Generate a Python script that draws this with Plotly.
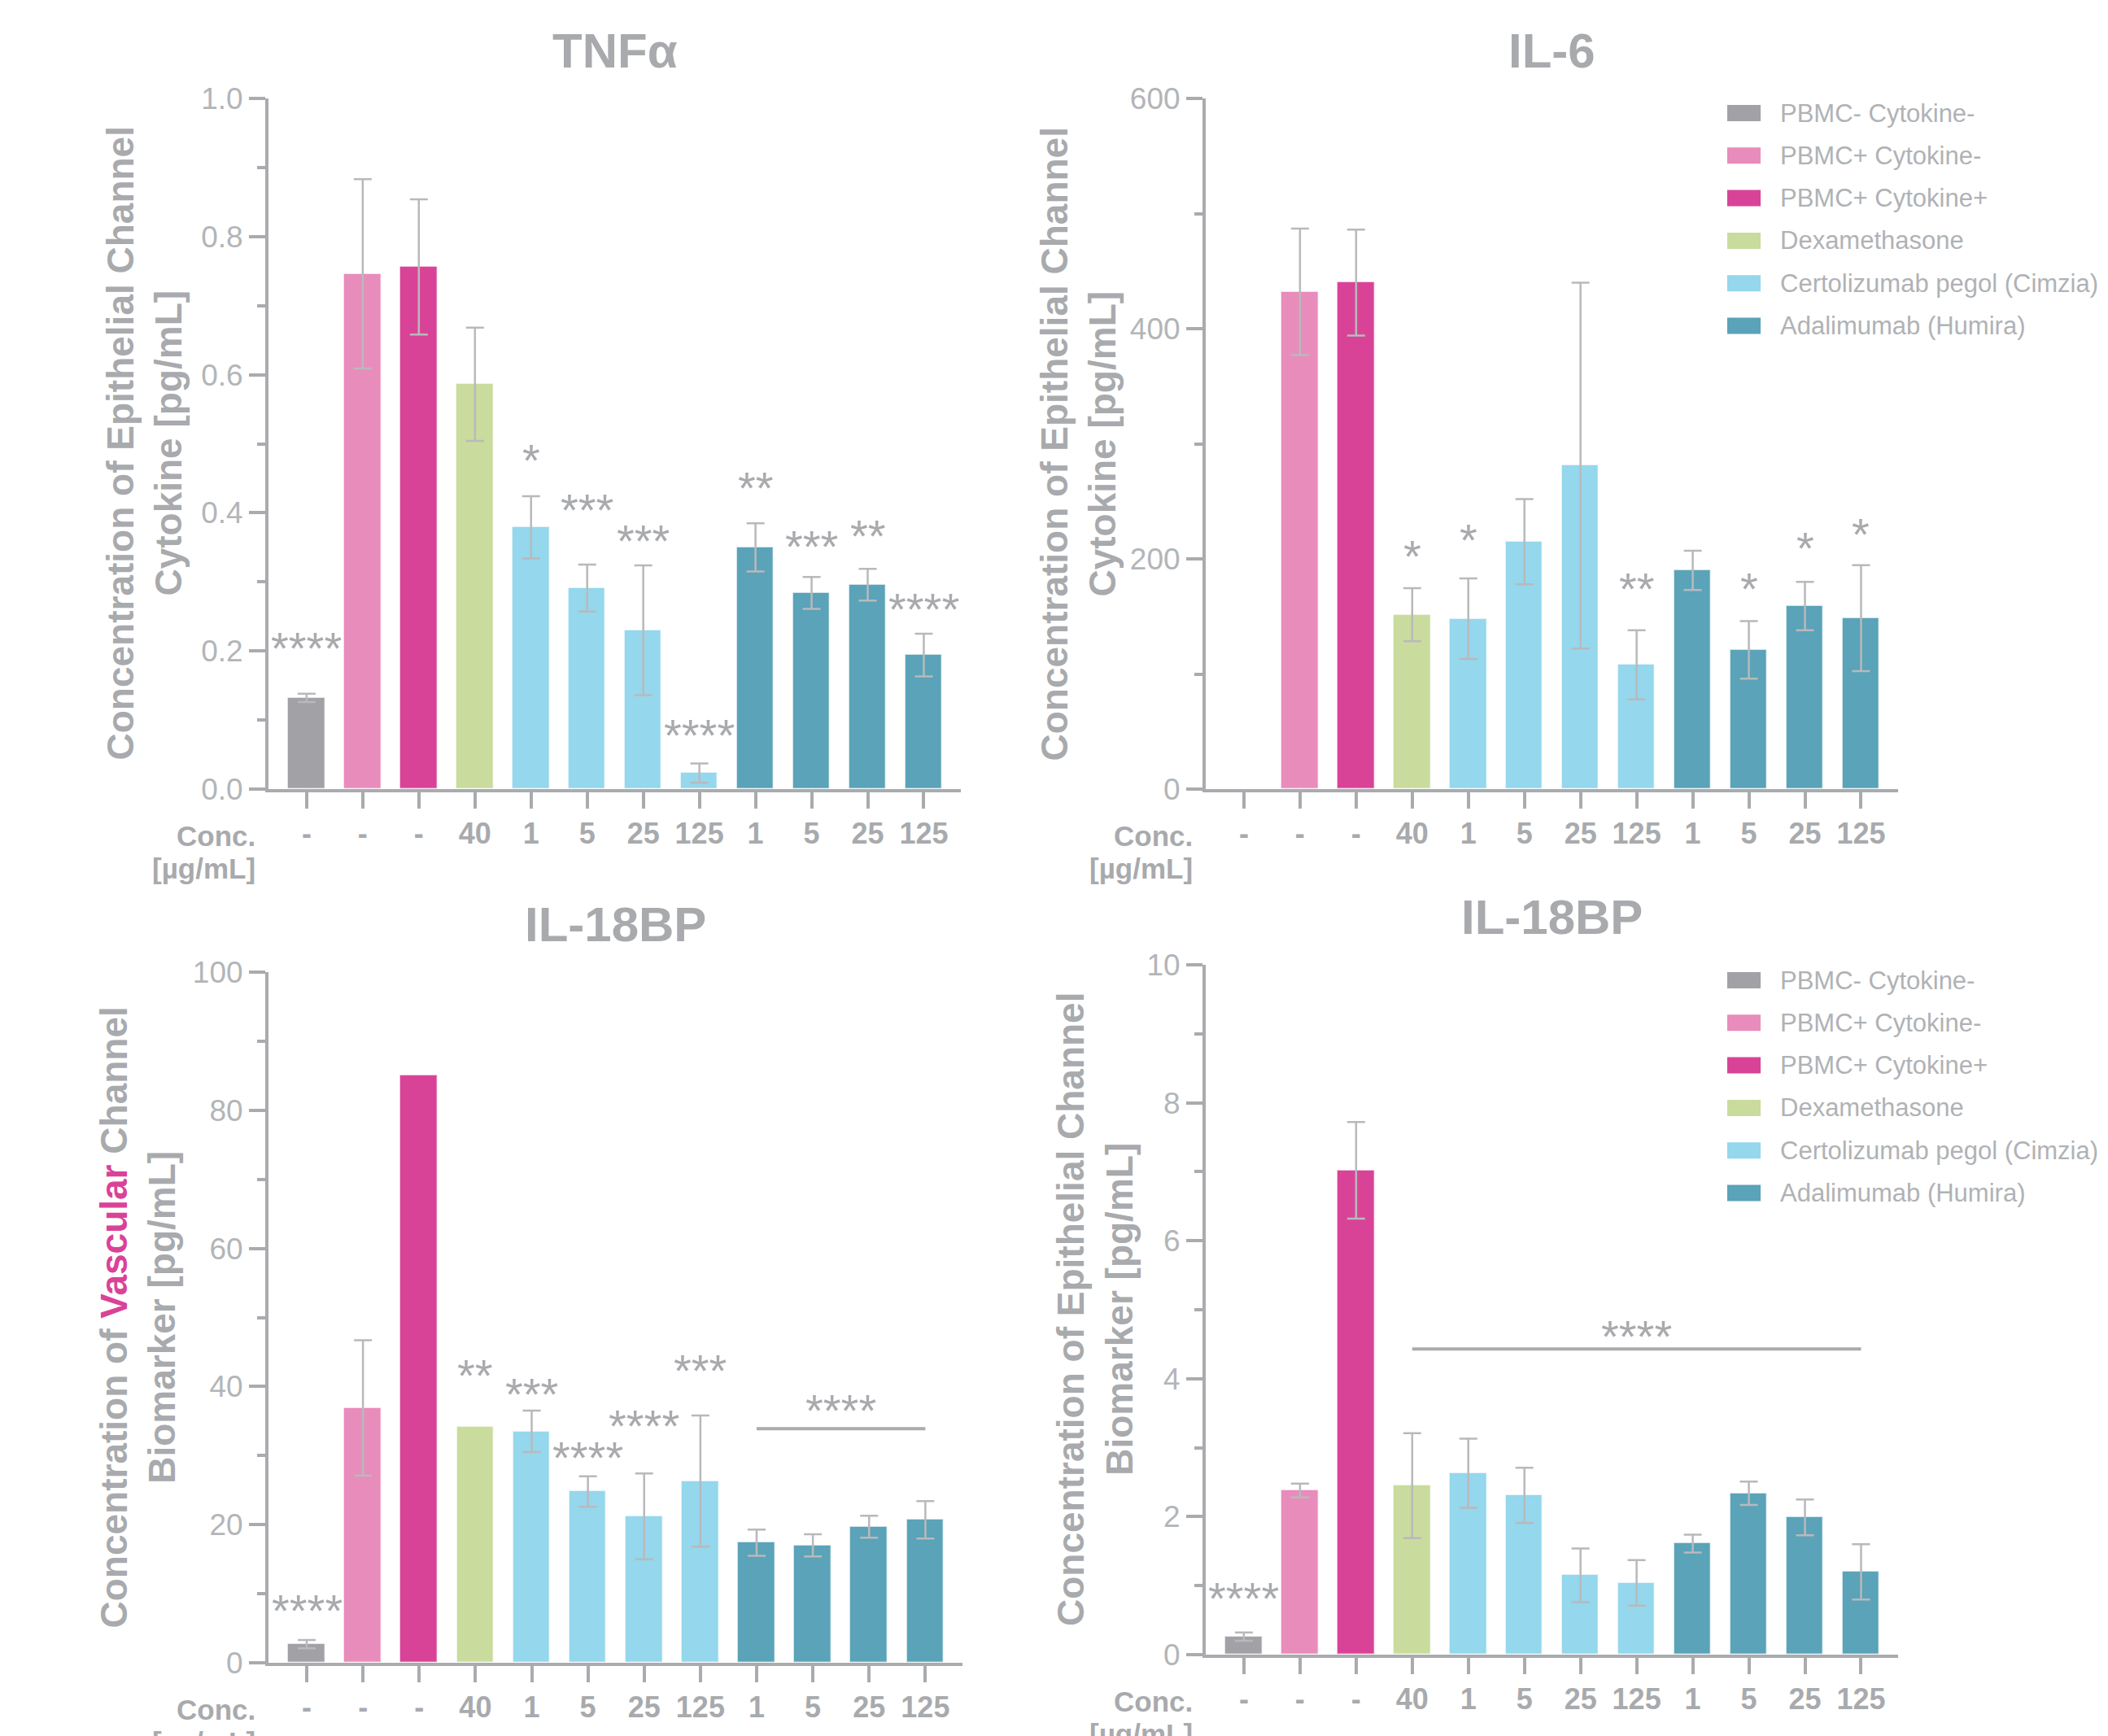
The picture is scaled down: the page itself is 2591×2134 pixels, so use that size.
import plotly.graph_objects as go

# ---------------- data ----------------
conc_labels = ["-", "-", "-", "40", "1", "5", "25", "125", "1", "5", "25", "125"]
groups = ["PBMC- Cytokine-", "PBMC+ Cytokine-", "PBMC+ Cytokine+", "Dexamethasone",
          "Certolizumab pegol (Cimzia)", "Adalimumab (Humira)"]
group_of_bar = [0, 1, 2, 3, 4, 4, 4, 4, 5, 5, 5, 5]

tnf_mean = [0.132, 0.746, 0.756, 0.586, 0.379, 0.291, 0.230, 0.023, 0.350, 0.284, 0.296, 0.194]
tnf_err = [0.006, 0.137, 0.098, 0.082, 0.045, 0.034, 0.094, 0.014, 0.035, 0.023, 0.023, 0.031]
tnf_sig = ["****", "", "", "", "*", "***", "***", "****", "**", "***", "**", "****"]
tnf_sig_y = [0.219, None, None, None, 0.49, 0.419, 0.374, 0.092, 0.45, 0.366, 0.381, 0.275]

il6_mean = [0, 432, 440, 151.5, 148, 215, 281, 108, 190, 121, 159, 148.5]
il6_err = [None, 55, 46, 23, 35, 37, 159, 30, 17, 25, 21, 46]
il6_sig = ["", "", "", "*", "*", "", "", "**", "", "*", "*", "*"]
il6_sig_y = [None, None, None, 211, 225, None, None, 183, None, 183, 218, 230]

vas_mean = [2.7, 36.9, 85.1, 34.2, 33.5, 24.8, 21.2, 26.3, 17.4, 17.0, 19.7, 20.7]
vas_err = [0.6, 9.8, None, None, 3.0, 2.2, 6.2, 9.5, 1.9, 1.6, 1.6, 2.7]
vas_sig = ["****", "", "", "**", "***", "****", "****", "***", "", "", "", ""]
vas_sig_y = [9.0, None, None, 43.0, 40.3, 31.2, 35.8, 43.7, None, None, None, None]
vas_bracket = (8, 11, 33.9, "****", 38.0)

epi_mean = [0.26, 2.38, 7.02, 2.45, 2.63, 2.31, 1.15, 1.04, 1.61, 2.34, 1.99, 1.20]
epi_err = [0.06, 0.10, 0.70, 0.76, 0.50, 0.40, 0.39, 0.33, 0.13, 0.17, 0.26, 0.40]
epi_sig = ["****", "", "", "", "", "", "", "", "", "", "", ""]
epi_sig_y = [0.96, None, None, None, None, None, None, None, None, None, None, None]
epi_bracket = (3, 11, 4.43, "****", 4.76)

# ---------------- style ----------------
W, H = 2591, 2134
colors = ["#a1a1a6", "#e88cbb", "#d94397", "#c9dc9d", "#95d7ec", "#5aa3b8"]
GRAY = "#a8aaad"
AXC = "#a9abae"
ERR = "#b9b9bb"
FONT = "Liberation Sans, Arial, sans-serif"

panels = [
    dict(title="TNFα", mean=tnf_mean, err=tnf_err, sig=tnf_sig, sig_y=tnf_sig_y, bracket=None,
         rng=[0, 1.0], dtick=0.2, minor=0.1, fmt=".1f",
         px=(330, 1181), py=(121, 970),
         ytitle="Concentration of Epithelial Channel<br>Cytokine [pg/mL]", ytx=178, legend_top=None),
    dict(title="IL-6", mean=il6_mean, err=il6_err, sig=il6_sig, sig_y=il6_sig_y, bracket=None,
         rng=[0, 600], dtick=200, minor=100, fmt="d",
         px=(1482, 2333), py=(121, 970),
         ytitle="Concentration of Epithelial Channel<br>Cytokine [pg/mL]", ytx=1326, legend_top=139),
    dict(title="IL-18BP", mean=vas_mean, err=vas_err, sig=vas_sig, sig_y=vas_sig_y, bracket=vas_bracket,
         rng=[0, 100], dtick=20, minor=10, fmt="d",
         px=(330, 1183), py=(1195, 2044),
         ytitle="Concentration of <span style='color:#d94397'>Vascular</span> Channel<br>Biomarker [pg/mL]",
         ytx=169, legend_top=None),
    dict(title="IL-18BP", mean=epi_mean, err=epi_err, sig=epi_sig, sig_y=epi_sig_y, bracket=epi_bracket,
         rng=[0, 10], dtick=2, minor=1, fmt="d",
         px=(1482, 2333), py=(1186, 2034),
         ytitle="Concentration of Epithelial Channel<br>Biomarker [pg/mL]", ytx=1346, legend_top=1205),
]

fig = go.Figure()
annotations = []
shapes = []
layout = {}

for i, p in enumerate(panels):
    k = "" if i == 0 else str(i + 1)
    xa, ya = "x" + k, "y" + k
    for g, gname in enumerate(groups):
        idx = [j for j in range(12) if group_of_bar[j] == g]
        with_err = [j for j in idx if p["err"][j] is not None]
        no_err = [j for j in idx if p["err"][j] is None]
        for sub, has_err in ((with_err, True), (no_err, False)):
            if not sub:
                continue
            fig.add_trace(go.Bar(
                x=sub, y=[p["mean"][j] for j in sub],
                error_y=dict(type="data", array=[p["err"][j] or 0 for j in sub], visible=has_err,
                             color=ERR, thickness=2.5, width=11),
                marker=dict(color=colors[g], line=dict(color="rgba(255,255,255,0.6)", width=1.5)),
                width=0.66, name=gname, xaxis=xa, yaxis=ya, showlegend=False,
            ))
    x0, x1 = p["px"]
    y0, y1 = p["py"]
    layout["xaxis" + k] = dict(
        domain=[x0 / W, x1 / W], anchor=ya, range=[-0.68, 11.66], automargin=False,
        tickmode="array", tickvals=list(range(12)), ticktext=conc_labels,
        ticks="outside", ticklen=20, tickwidth=4, tickcolor=AXC,
        showline=True, linewidth=4, linecolor=AXC, showgrid=False, zeroline=False,
        tickfont=dict(family=FONT, size=36, color=GRAY, weight="bold"),
    )
    layout["yaxis" + k] = dict(
        domain=[1 - y1 / H, 1 - y0 / H], anchor=xa, range=p["rng"], automargin=False,
        tickmode="linear", tick0=0, dtick=p["dtick"], tickformat=p["fmt"],
        ticks="outside", ticklen=20, tickwidth=4, tickcolor=AXC,
        minor=dict(dtick=p["minor"], tick0=0, ticks="outside", ticklen=10, tickwidth=4, tickcolor=AXC, showgrid=False),
        showline=True, linewidth=4, linecolor=AXC, showgrid=False, zeroline=False,
        tickfont=dict(family=FONT, size=37, color="#b3b5b8"),
    )
    # panel title
    annotations.append(dict(text=p["title"], xref="paper", yref="paper",
                            x=(x0 + x1) / 2 / W, y=1 - (y0 - 59) / H, xanchor="center", yanchor="middle",
                            showarrow=False, font=dict(family=FONT, size=60, color=GRAY, weight="bold")))
    # y title
    annotations.append(dict(text=p["ytitle"], xref="paper", yref="paper",
                            x=p["ytx"] / W, y=1 - (y0 + y1) / 2 / H, xanchor="center", yanchor="middle",
                            textangle=-90, showarrow=False,
                            font=dict(family=FONT, size=46, color=GRAY, weight="bold")))
    # Conc. label
    annotations.append(dict(text="Conc.", xref="paper", yref="paper",
                            x=(x0 - 14) / W, y=1 - (y1 + 57) / H, xanchor="right", yanchor="middle",
                            showarrow=False, font=dict(family=FONT, size=35, color=GRAY, weight="bold")))
    annotations.append(dict(text="[µg/mL]", xref="paper", yref="paper",
                            x=(x0 - 14) / W, y=1 - (y1 + 97) / H, xanchor="right", yanchor="middle",
                            showarrow=False, font=dict(family=FONT, size=35, color=GRAY, weight="bold")))
    # significance stars
    for j in range(12):
        if p["sig"][j]:
            annotations.append(dict(text=p["sig"][j], xref=xa, yref=ya, x=j, y=p["sig_y"][j],
                                    xanchor="center", yanchor="middle", yshift=-12, showarrow=False,
                                    font=dict(family=FONT, size=56, color=GRAY)))
    if p["bracket"]:
        bx0, bx1, by, btxt, bty = p["bracket"]
        shapes.append(dict(type="line", xref=xa, yref=ya, x0=bx0, x1=bx1, y0=by, y1=by,
                           line=dict(color=AXC, width=4)))
        annotations.append(dict(text=btxt, xref=xa, yref=ya, x=(bx0 + bx1) / 2, y=bty,
                                xanchor="center", yanchor="middle", yshift=-12, showarrow=False,
                                font=dict(family=FONT, size=56, color=GRAY)))
    # legend (key) drawn beside the panel
    if p["legend_top"] is not None:
        for g, gname in enumerate(groups):
            cy = p["legend_top"] + g * 52.3
            shapes.append(dict(type="rect", xref="paper", yref="paper",
                               x0=2123 / W, x1=2164 / W, y0=1 - (cy - 10) / H, y1=1 - (cy + 10) / H,
                               fillcolor=colors[g], line=dict(width=0)))
            annotations.append(dict(text=gname, xref="paper", yref="paper",
                                    x=2186 / W, y=1 - cy / H, xanchor="left", yanchor="middle",
                                    showarrow=False, font=dict(family=FONT, size=31, color="#b0b2b5")))

fig.update_layout(
    width=W, height=H, margin=dict(l=0, r=0, t=0, b=0, autoexpand=False),
    paper_bgcolor="white", plot_bgcolor="white",
    barmode="overlay", bargap=0, showlegend=False,
    annotations=annotations, shapes=shapes,
    font=dict(family=FONT, color=GRAY),
    **layout,
)

fig.write_html("out.html", config={"displayModeBar": False},
               post_script="document.body.style.margin='0';")
